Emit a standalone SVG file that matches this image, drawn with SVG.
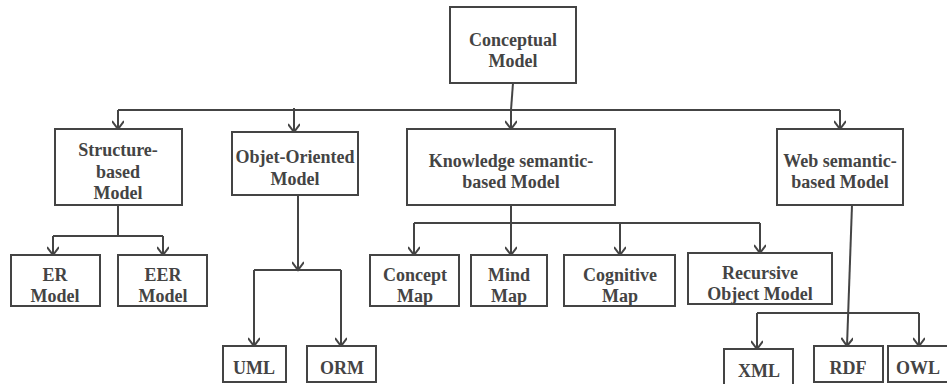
<svg xmlns="http://www.w3.org/2000/svg" width="947" height="384" viewBox="0 0 947 384">
<style>
.box{fill:#fff;stroke:#444;stroke-width:2}
.t{font-family:'Liberation Serif','Times New Roman','DejaVu Serif',serif;font-weight:bold;font-size:18px;fill:#444;text-anchor:middle}
.c{fill:none;stroke:#444;stroke-width:2}
</style>
<defs>
<marker id="arr" viewBox="0 0 16 12" refX="14" refY="6" markerWidth="16" markerHeight="12" markerUnits="userSpaceOnUse" orient="auto">
<polyline points="6,0 14,6 6,12" fill="none" stroke="#444" stroke-width="2"/>
</marker>
</defs>
<rect width="947" height="384" fill="#fff"/>
<g id="connectors">
<path class="c" d="M513,83 L511,110"/>
<path class="c" d="M118,110 L840,110"/>
<path class="c" d="M118,110 L118,129" marker-end="url(#arr)"/>
<path class="c" d="M294,108 L294,132" marker-end="url(#arr)"/>
<path class="c" d="M511,110 L511,129" marker-end="url(#arr)"/>
<path class="c" d="M840,110 L840,129" marker-end="url(#arr)"/>
<path class="c" d="M118,205 L118,236 M53,236 L163,236"/>
<path class="c" d="M53,236 L53,255" marker-end="url(#arr)"/>
<path class="c" d="M163,236 L163,255" marker-end="url(#arr)"/>
<path class="c" d="M298,195 L298,270" marker-end="url(#arr)"/>
<path class="c" d="M254,270 L341,270"/>
<path class="c" d="M254,270 L254,346" marker-end="url(#arr)"/>
<path class="c" d="M341,270 L341,346" marker-end="url(#arr)"/>
<path class="c" d="M511,205 L511,255" marker-end="url(#arr)"/>
<path class="c" d="M414,223 L760,223"/>
<path class="c" d="M414,223 L414,255" marker-end="url(#arr)"/>
<path class="c" d="M620,223 L620,255" marker-end="url(#arr)"/>
<path class="c" d="M760,223 L760,253" marker-end="url(#arr)"/>
<path class="c" d="M852,205 L847,346" marker-end="url(#arr)"/>
<path class="c" d="M757,313 L919,313"/>
<path class="c" d="M757,313 L757,349" marker-end="url(#arr)"/>
<path class="c" d="M919,313 L919,346" marker-end="url(#arr)"/>
</g>
<g id="conceptual"><rect class="box" x="450" y="7" width="126" height="76"/><text class="t" x="513" y="46">Conceptual</text><text class="t" x="513" y="67">Model</text></g>
<g id="structure"><rect class="box" x="55" y="129" width="127" height="76"/><text class="t" x="118" y="156">Structure-</text><text class="t" x="118" y="178">based</text><text class="t" x="118" y="199">Model</text></g>
<g id="objet"><rect class="box" x="232" y="132" width="126" height="63"/><text class="t" x="295" y="163">Objet-Oriented</text><text class="t" x="295" y="185">Model</text></g>
<g id="knowledge"><rect class="box" x="407" y="129" width="208" height="76"/><text class="t" x="511" y="167">Knowledge semantic-</text><text class="t" x="511" y="188">based Model</text></g>
<g id="web"><rect class="box" x="777" y="129" width="126" height="76"/><text class="t" x="840" y="167">Web semantic-</text><text class="t" x="840" y="188">based Model</text></g>
<g id="er"><rect class="box" x="11" y="255" width="89" height="51"/><text class="t" x="55" y="281">ER</text><text class="t" x="55" y="302">Model</text></g>
<g id="eer"><rect class="box" x="118" y="255" width="89" height="51"/><text class="t" x="163" y="281">EER</text><text class="t" x="163" y="302">Model</text></g>
<g id="uml"><rect class="box" x="223" y="346" width="63" height="36"/><text class="t" x="254" y="374">UML</text></g>
<g id="orm"><rect class="box" x="307" y="346" width="69" height="36"/><text class="t" x="342" y="374">ORM</text></g>
<g id="concept"><rect class="box" x="370" y="255" width="89" height="51"/><text class="t" x="415" y="281">Concept</text><text class="t" x="415" y="302">Map</text></g>
<g id="mind"><rect class="box" x="471" y="255" width="76" height="51"/><text class="t" x="509" y="281">Mind</text><text class="t" x="509" y="302">Map</text></g>
<g id="cognitive"><rect class="box" x="564" y="255" width="111" height="51"/><text class="t" x="620" y="281">Cognitive</text><text class="t" x="620" y="302">Map</text></g>
<g id="recursive"><rect class="box" x="688" y="253" width="144" height="51"/><text class="t" x="760" y="279">Recursive</text><text class="t" x="760" y="300">Object Model</text></g>
<g id="xml"><rect class="box" x="724" y="349" width="69" height="38"/><text class="t" x="759" y="377">XML</text></g>
<g id="rdf"><rect class="box" x="814" y="346" width="69" height="36"/><text class="t" x="848" y="374">RDF</text></g>
<g id="owl"><rect class="box" x="888" y="346" width="60" height="36"/><text class="t" x="918" y="374">OWL</text></g>
</svg>
